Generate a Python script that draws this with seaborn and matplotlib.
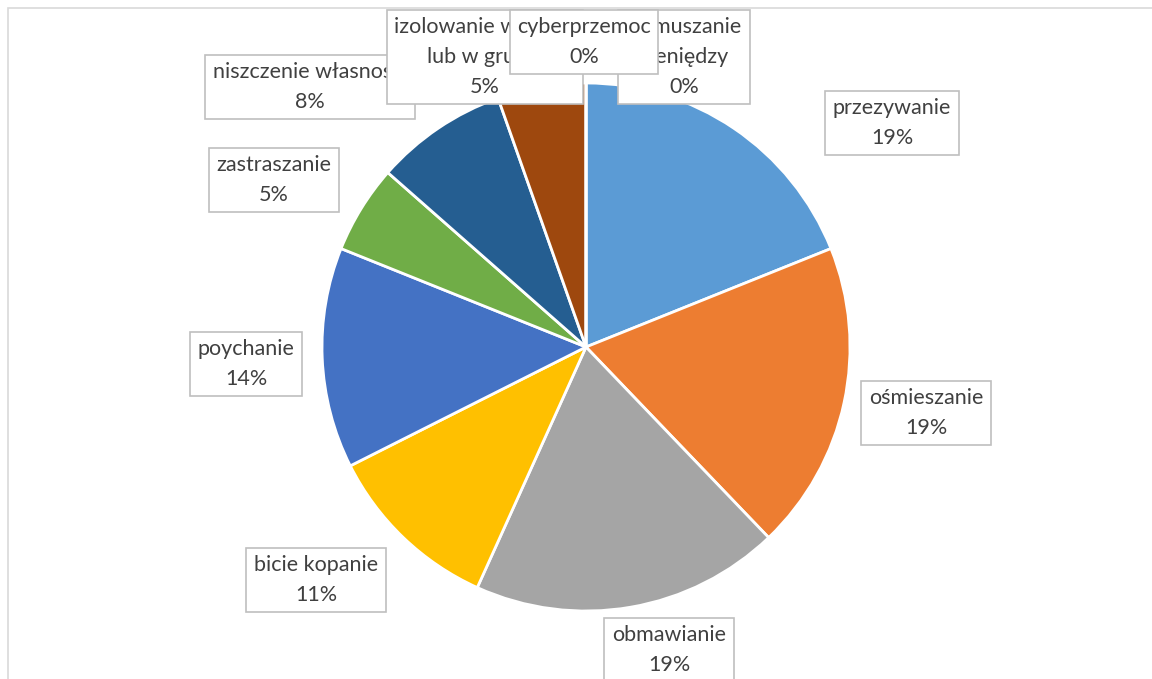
import matplotlib
matplotlib.use("Agg")
import matplotlib.pyplot as plt
import seaborn as sns
from matplotlib.patches import Rectangle

# --- data ---
categories = ['przezywanie', 'ośmieszanie', 'obmawianie', 'bicie kopanie', 'poychanie',
              'zastraszanie', 'niszczenie własności', 'izolowanie w klasie\nlub w grupie',
              'cyberprzemoc', 'wymuszanie\npieniędzy']
counts = [7, 7, 7, 4, 5, 2, 3, 2, 0, 0]
colors = ['#5B9BD5', '#ED7D31', '#A5A5A5', '#FFC000', '#4472C4',
          '#70AD47', '#255E91', '#9E480E', '#636363', '#997300']

# label box centres in image pixels (layout only)
label_px = [(892, 123), (926, 413), (669, 650), (316, 580), (246, 364),
            (274, 180), (310, 87), (485, 57), (584, 42), (684, 57)]
label_z = [5, 5, 5, 5, 5, 5, 5, 6, 8, 7]

sns.set_theme(style='white')
plt.rcParams['font.family'] = ['Lato', 'DejaVu Sans']

W, H = 1152, 679
cx, cy, r = 586, 347, 264
fig = plt.figure(figsize=(W / 100, H / 100), dpi=100)

# chart frame (top and left edges visible)
fig.patches.append(Rectangle((8 / W, -0.1), 1.2, 1.1 - 8 / H, transform=fig.transFigure,
                             fill=False, edgecolor='#D9D9D9', linewidth=1.2))

ax = fig.add_axes([(cx - r) / W, 1 - (cy + r) / H, 2 * r / W, 2 * r / H])
ax.pie(counts, colors=colors, startangle=90, counterclock=False, radius=1,
       wedgeprops=dict(edgecolor='white', linewidth=2))
ax.set_xlim(-1, 1)
ax.set_ylim(-1, 1)
ax.set_aspect('equal')
ax.axis('off')

total = sum(counts)
for name, v, (px, py), z in zip(categories, counts, label_px, label_z):
    pct = f"{round(100 * v / total)}%"
    ax.text((px - cx) / r, (cy - py) / r, f"{name}\n{pct}", ha='center', va='center',
            fontsize=15.5, color='#404040', linespacing=1.6, zorder=z, clip_on=False,
            bbox=dict(boxstyle='square,pad=0.35', facecolor='white', edgecolor='#BFBFBF', linewidth=1.2))

fig.savefig('out.png', dpi=100)
